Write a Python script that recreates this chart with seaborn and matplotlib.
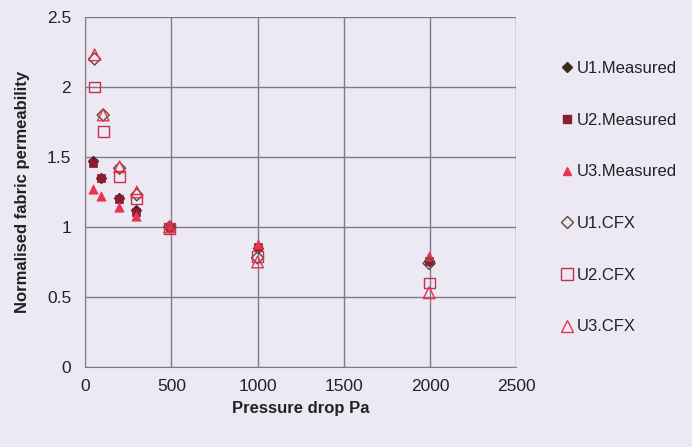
import matplotlib
matplotlib.use("Agg")
import matplotlib.pyplot as plt
import seaborn as sns
import pandas as pd
from matplotlib.lines import Line2D

# pressure drop (Pa)
P_MEASURED = [45, 95, 195, 295, 490, 1000, 1995]
P_CFX = [55, 105, 200, 300, 490, 1000, 1995]

U1_MEASURED = [1.47, 1.35, 1.21, 1.12, 1.0, 0.85, 0.76]
U2_MEASURED = [1.46, 1.35, 1.20, 1.11, 1.0, 0.86, 0.76]
U3_MEASURED = [1.27, 1.22, 1.14, 1.08, 1.0, 0.88, 0.79]
U1_CFX = [2.20, 1.80, 1.42, 1.23, 1.0, 0.78, 0.74]
U2_CFX = [2.00, 1.68, 1.36, 1.20, 0.99, 0.79, 0.60]
U3_CFX = [2.23, 1.80, 1.43, 1.25, 1.0, 0.75, 0.53]

BG = "#ece9f5"

series = [
    ("U1.Measured", P_MEASURED, U1_MEASURED, "D", "#3b2a1c", True, 30),
    ("U2.Measured", P_MEASURED, U2_MEASURED, "s", "#8c1c30", True, 38),
    ("U3.Measured", P_MEASURED, U3_MEASURED, "^", "#e8344e", True, 45),
    ("U1.CFX", P_CFX, U1_CFX, "D", "#5a4a3a", False, 38),
    ("U2.CFX", P_CFX, U2_CFX, "s", "#c43250", False, 60),
    ("U3.CFX", P_CFX, U3_CFX, "^", "#e8344e", False, 70),
]

sns.set_style("white")
plt.rcParams["font.family"] = ["Liberation Sans", "DejaVu Sans"]

fig = plt.figure(figsize=(6.92, 4.47), dpi=100, facecolor=BG)
ax = fig.add_axes([0.123, 0.179, 0.623, 0.783])
ax.set_facecolor(BG)

handles = []
for name, xs, ys, mk, col, filled, size in series:
    df = pd.DataFrame({"p": xs, "k": ys})
    if filled:
        sns.scatterplot(data=df, x="p", y="k", ax=ax, marker=mk, s=size,
                        color=col, edgecolor=col, linewidth=0.5, zorder=3)
        h = Line2D([], [], marker=mk, linestyle="none", color=col,
                   markersize=6 if mk != "D" else 5)
    else:
        sns.scatterplot(data=df, x="p", y="k", ax=ax, marker=mk, s=size,
                        facecolor="none", edgecolor=col, linewidth=1.0, zorder=4)
        h = Line2D([], [], marker=mk, linestyle="none", markerfacecolor="none",
                   markeredgecolor=col, markeredgewidth=1.0,
                   markersize=8 if mk != "D" else 6)
    handles.append((h, name))

ax.set_xlim(0, 2500)
ax.set_ylim(0, 2.5)
ax.set_xticks([0, 500, 1000, 1500, 2000, 2500])
ax.set_yticks([0, 0.5, 1, 1.5, 2, 2.5])
ax.set_yticklabels(["0", "0.5", "1", "1.5", "2", "2.5"])
ax.grid(True, color="#7c7c84", linewidth=1)
ax.set_axisbelow(True)
for s in ["top", "right"]:
    ax.spines[s].set_visible(False)
for s in ["left", "bottom"]:
    ax.spines[s].set_color("#7c7c84")
ax.tick_params(axis="both", direction="out", length=5, color="#7c7c84",
               labelsize=12.5, labelcolor="#222222", pad=5)
ax.tick_params(axis="x", pad=4)

ax.set_xlabel("Pressure drop Pa", fontsize=12, fontweight="bold",
              color="#222222", labelpad=5)
ax.set_ylabel("Normalised fabric permeability", fontsize=12, fontweight="bold",
              color="#222222", labelpad=12)

fig.legend([h for h, _ in handles], [n for _, n in handles],
           loc="upper left", bbox_to_anchor=(0.785, 0.897), frameon=False,
           fontsize=12, labelspacing=2.2, handletextpad=0.1,
           handlelength=1.0, labelcolor="#222222")

fig.savefig("out.png", dpi=100, facecolor=BG)
